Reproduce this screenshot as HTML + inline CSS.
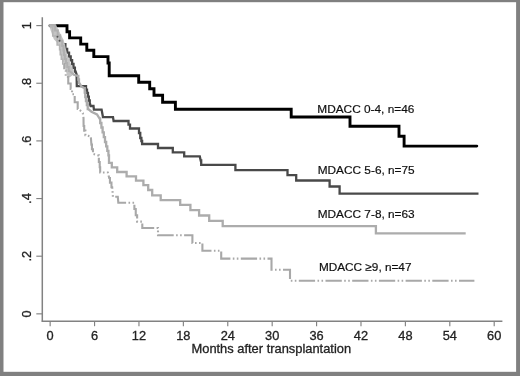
<!DOCTYPE html>
<html><head><meta charset="utf-8"><title>Kaplan-Meier</title>
<style>
html,body{margin:0;padding:0;background:#fff;}
body{width:520px;height:376px;overflow:hidden;}
svg{display:block;}
.ax text{font-family:"Liberation Sans",Arial,sans-serif;font-size:12.8px;fill:#222;stroke:#222;stroke-width:0.3px;}
.lab text{font-family:"Liberation Sans",Arial,sans-serif;font-size:11.6px;fill:#111;stroke:#111;stroke-width:0.2px;}
</style></head><body>
<svg width="520" height="376" viewBox="0 0 520 376">
<defs><filter id="bl" x="-5%" y="-5%" width="110%" height="110%"><feGaussianBlur stdDeviation="0.45"/></filter></defs>
<rect x="0" y="0" width="520" height="376" fill="#808080"/>
<rect x="3.5" y="2.2" width="512.6" height="369.6" fill="#ffffff"/>
<g stroke="#828282" stroke-width="1.5" fill="none" filter="url(#bl)">
<line x1="42.3" y1="17.3" x2="42.3" y2="321.8"/>
<line x1="41.7" y1="321.2" x2="502.4" y2="321.2"/>
<line x1="50.15" y1="321.2" x2="50.15" y2="326.2" stroke-width="1.15"/><line x1="94.56" y1="321.2" x2="94.56" y2="326.2" stroke-width="1.15"/><line x1="138.96" y1="321.2" x2="138.96" y2="326.2" stroke-width="1.15"/><line x1="183.37" y1="321.2" x2="183.37" y2="326.2" stroke-width="1.15"/><line x1="227.77" y1="321.2" x2="227.77" y2="326.2" stroke-width="1.15"/><line x1="272.18" y1="321.2" x2="272.18" y2="326.2" stroke-width="1.15"/><line x1="316.58" y1="321.2" x2="316.58" y2="326.2" stroke-width="1.15"/><line x1="360.99" y1="321.2" x2="360.99" y2="326.2" stroke-width="1.15"/><line x1="405.39" y1="321.2" x2="405.39" y2="326.2" stroke-width="1.15"/><line x1="449.80" y1="321.2" x2="449.80" y2="326.2" stroke-width="1.15"/><line x1="494.20" y1="321.2" x2="494.20" y2="326.2" stroke-width="1.15"/>
<line x1="36.3" y1="313.85" x2="42.3" y2="313.85" stroke-width="1.15"/><line x1="36.3" y1="256.20" x2="42.3" y2="256.20" stroke-width="1.15"/><line x1="36.3" y1="198.55" x2="42.3" y2="198.55" stroke-width="1.15"/><line x1="36.3" y1="140.90" x2="42.3" y2="140.90" stroke-width="1.15"/><line x1="36.3" y1="83.25" x2="42.3" y2="83.25" stroke-width="1.15"/><line x1="36.3" y1="25.60" x2="42.3" y2="25.60" stroke-width="1.15"/>
</g>
<g fill="none" stroke-linejoin="miter" filter="url(#bl)">
<path d="M50,25.7 H67 V31.8 H69.6 V37.9 H80.7 V44.1 H86.8 V50.3 H93.8 V56.6 H108 V63 H109.2 V75.8 H138.7 V82.3 H149.7 V88.7 H154 V95.3 H162.6 V102.3 H175.4 V109.3 H291.2 V117 H350 V126.3 H399 V136.2 H404.1 V146.1 H476.8" stroke="#000" stroke-width="2.9" stroke-linecap="round"/>
<path d="M50.00,25.70 L53.50,25.70 L54.17,25.70 L54.17,29.40 L55.50,29.40 L55.50,33.10 L56.83,33.10 L56.83,36.80 L57.50,36.80 L58.45,36.80 L58.45,40.70 L59.40,40.70 L61.00,43.60 L64.60,44.20 L65.40,44.20 L65.40,48.80 L66.20,48.80 L67.15,48.80 L67.15,52.65 L69.05,52.65 L69.05,56.50 L70.00,56.50 L70.70,56.50 L70.70,60.25 L72.10,60.25 L72.10,64.00 L73.50,64.00 L73.50,67.75 L74.90,67.75 L74.90,71.50 L75.60,71.50 L76.60,74.50 L76.80,86.20 L85.50,86.20 L86.00,86.20 L86.00,89.55 L87.00,89.55 L87.00,92.90 L87.50,92.90 L87.95,92.90 L87.95,96.70 L88.85,96.70 L88.85,100.50 L89.75,100.50 L89.75,104.30 L90.20,104.30 L90.60,106.00 L93.50,106.00 L93.90,109.70 L101.60,109.70 L102.30,113.50 L103.00,117.10 L113.00,117.10 L113.60,121.00 L128.00,121.00 L128.50,121.00 L128.50,124.70 L129.00,124.70 L130.00,124.70 L130.00,128.50 L131.00,128.50 L138.50,128.50 L139.00,128.50 L139.00,133.00 L139.50,133.00 L140.25,133.00 L140.25,138.00 L141.00,138.00 L141.38,138.00 L141.38,141.00 L142.12,141.00 L142.12,144.00 L142.50,144.00 L158.00,144.00 L158.00,148.00 L172.80,148.00 L172.80,152.40 L184.20,152.40 L184.20,156.40 L199.80,156.40 L200.70,160.50 L201.20,160.50 L201.20,164.90 L201.70,164.90 L235.40,164.90 L235.40,170.10 L287.50,170.10 L287.50,175.20 L296.20,175.20 L296.20,180.50 L329.60,180.50 L329.60,186.50 L339.60,186.50 L339.60,193.60 L478.50,193.60" stroke="#4a4a4a" stroke-width="2.3"/>
<path d="M50.00,25.70 L53.80,25.70 L55.10,25.70 L55.10,30.55 L57.70,30.55 L57.70,35.40 L59.00,35.40 L60.05,35.40 L60.05,40.70 L62.15,40.70 L62.15,46.00 L63.20,46.00 L63.48,46.00 L63.48,50.50 L64.03,50.50 L64.03,55.00 L64.30,55.00 L64.85,55.00 L64.85,59.00 L65.95,59.00 L65.95,63.00 L66.50,63.00 L67.25,63.00 L67.25,67.00 L68.75,67.00 L68.75,71.00 L69.50,71.00 L74.00,74.80 L78.00,76.00 L78.33,76.00 L78.33,79.50 L78.97,79.50 L78.97,83.00 L79.30,83.00 L81.50,86.60 L84.50,88.20 L84.75,88.20 L84.75,92.60 L85.25,92.60 L85.25,97.00 L85.50,97.00 L85.95,97.00 L85.95,101.00 L86.85,101.00 L86.85,105.00 L87.75,105.00 L87.75,109.00 L88.20,109.00 L91.50,111.70 L97.00,114.40 L99.60,118.50 L100.20,118.50 L100.20,123.00 L101.40,123.00 L101.40,127.50 L102.00,127.50 L102.60,127.50 L102.60,132.33 L103.80,132.33 L103.80,137.17 L105.00,137.17 L105.00,142.00 L105.60,142.00 L106.17,142.00 L106.17,146.47 L107.30,146.47 L107.30,150.93 L108.43,150.93 L108.43,155.40 L109.00,155.40 L109.00,162.80 L111.80,162.80 L111.80,167.40 L117.20,167.40 L117.20,172.00 L126.60,172.00 L126.60,176.30 L136.00,176.30 L136.00,180.70 L143.40,180.70 L143.40,185.10 L148.20,185.10 L148.20,190.00 L152.20,190.00 L152.20,195.30 L160.70,195.30 L160.70,200.10 L180.20,200.10 L180.20,204.90 L190.40,204.90 L190.40,210.10 L199.10,210.10 L199.10,215.50 L209.20,215.50 L209.20,220.90 L222.70,220.90 L222.70,226.10 L375.90,226.10 L375.90,233.30 L465.70,233.30" stroke="#acacac" stroke-width="2.3"/>
<polygon points="48.8,24.3 50.5,30 52.5,35.4 53.8,39.2 58.3,44 59.9,48.8 60.8,54.6 62.3,60 64.6,65.3 65.8,70.4 67,75.5 69.5,77.5 72.6,75.2 73.4,70.4 71.3,65.3 67.3,54.6 65.8,48.8 64.8,44 63.2,39.2 61.3,35.4 58.5,30 55.5,24.3" fill="#c4c4c4" stroke="none"/>
<path d="M50.00,25.70 L53.80,25.70 L55.10,25.70 L55.10,30.55 L57.70,30.55 L57.70,35.40 L59.00,35.40 L60.05,35.40 L60.05,40.70 L62.15,40.70 L62.15,46.00 L63.20,46.00 L63.48,46.00 L63.48,50.50 L64.03,50.50 L64.03,55.00 L64.30,55.00 L64.85,55.00 L64.85,59.00 L65.95,59.00 L65.95,63.00 L66.50,63.00 L67.25,63.00 L67.25,67.00 L68.75,67.00 L68.75,71.00 L69.50,71.00 L74.00,74.80" stroke="#b0b0b0" stroke-width="2"/>
<path d="M50.00,25.70 L50.50,27.00 L52.75,27.00 L52.75,36.00 L55.00,36.00 L57.15,36.00 L57.15,45.00 L59.30,45.00 L59.62,45.00 L59.62,49.80 L60.28,49.80 L60.28,54.60 L60.60,54.60 L61.33,54.60 L61.33,59.30 L62.78,59.30 L62.78,64.00 L63.50,64.00" stroke="#b4b4b4" stroke-width="1.6"/>
<circle cx="57.5" cy="36.8" r="1" fill="#555" stroke="none"/><circle cx="59.5" cy="40.8" r="1" fill="#555" stroke="none"/>
<path d="M63.50,64.00 L64.25,64.00 L64.25,70.50 L65.75,70.50 L65.75,77.00 L66.50,77.00 L68.25,77.00 L68.25,83.50 L70.00,83.50 L70.67,83.50 L70.67,88.85 L72.03,88.85 L72.03,94.20 L72.70,94.20 L74.70,94.20 L74.70,102.30 L76.70,102.30 L77.70,102.30 L77.70,109.00 L78.70,109.00 L82.80,113.00 L83.50,117.80 L83.60,126.00 L84.20,126.00 L84.20,130.60 L85.40,130.60 L85.40,135.20 L86.00,135.20 L90.80,136.50 L91.40,144.60 L91.93,144.60 L91.93,149.30 L92.98,149.30 L92.98,154.00 L93.50,154.00 L98.20,155.40 L98.85,155.40 L98.85,162.00 L99.50,162.00 L99.72,162.00 L99.72,167.25 L100.17,167.25 L100.17,172.50 L100.40,172.50 L107.80,172.50 L109.20,178.00 L109.95,178.00 L109.95,182.65 L111.45,182.65 L111.45,187.30 L112.20,187.30 L112.90,196.80 L117.80,196.80 L118.30,202.70 L133.70,202.70 L134.38,202.70 L134.38,209.00 L135.75,209.00 L135.75,215.30 L137.12,215.30 L137.12,221.60 L137.80,221.60 L142.30,221.60 L142.30,228.00 L158.00,228.00 L158.00,235.20 L192.40,235.20 L192.40,243.00 L202.40,243.00 L202.40,250.80 L221.20,250.80 L221.20,258.60 L271.50,258.60 L271.50,269.80 L290.00,269.80 L290.00,280.70 L474.40,280.70" stroke="#a8a8a8" stroke-width="2.1" stroke-dasharray="16.3 2.4 1.6 2.4 1.6 2.4" stroke-dashoffset="10.30"/>
</g>
<g class="ax" filter="url(#bl)">
<text x="50.15" y="340" text-anchor="middle">0</text><text x="94.56" y="340" text-anchor="middle">6</text><text x="138.96" y="340" text-anchor="middle">12</text><text x="183.37" y="340" text-anchor="middle">18</text><text x="227.77" y="340" text-anchor="middle">24</text><text x="272.18" y="340" text-anchor="middle">30</text><text x="316.58" y="340" text-anchor="middle">36</text><text x="360.99" y="340" text-anchor="middle">42</text><text x="405.39" y="340" text-anchor="middle">48</text><text x="449.80" y="340" text-anchor="middle">54</text><text x="494.20" y="340" text-anchor="middle">60</text>
<text transform="translate(31.1,313.85) rotate(-90)" text-anchor="middle">0</text><text transform="translate(31.1,256.20) rotate(-90)" text-anchor="middle">.2</text><text transform="translate(31.1,198.55) rotate(-90)" text-anchor="middle">.4</text><text transform="translate(31.1,140.90) rotate(-90)" text-anchor="middle">.6</text><text transform="translate(31.1,83.25) rotate(-90)" text-anchor="middle">.8</text><text transform="translate(31.1,25.60) rotate(-90)" text-anchor="middle">1</text>
<text x="191.5" y="352.5" textLength="159.6" lengthAdjust="spacingAndGlyphs">Months after transplantation</text>
</g>
<g class="lab" filter="url(#bl)">
<text x="317.3" y="113.3" textLength="97" lengthAdjust="spacingAndGlyphs">MDACC 0-4, n=46</text>
<text x="317.7" y="173.9" textLength="97" lengthAdjust="spacingAndGlyphs">MDACC 5-6, n=75</text>
<text x="317.7" y="217.6" textLength="97" lengthAdjust="spacingAndGlyphs">MDACC 7-8, n=63</text>
<text x="318.9" y="270.6" textLength="92.6" lengthAdjust="spacingAndGlyphs">MDACC ≥9, n=47</text>
</g>
</svg>
</body></html>
